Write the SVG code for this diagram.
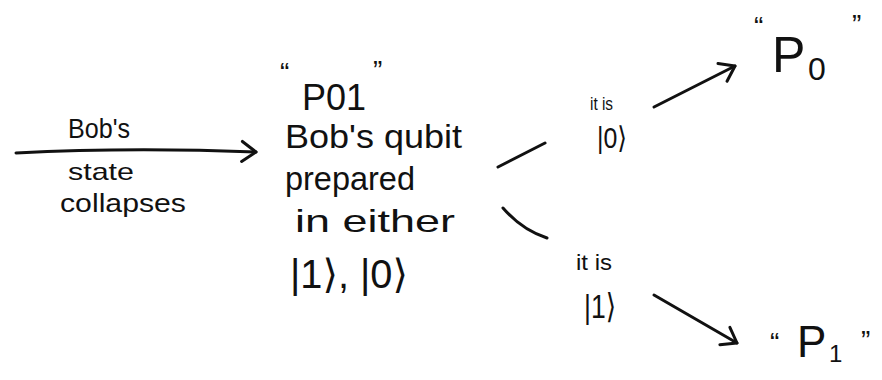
<svg xmlns="http://www.w3.org/2000/svg" width="882" height="380" viewBox="0 0 882 380">
<defs>
<marker id="head" markerUnits="userSpaceOnUse" markerWidth="20" markerHeight="24" refX="16" refY="12" orient="auto">
<path d="M2,2 L16,12 L2,22" fill="none" stroke="#111" stroke-width="3" stroke-linecap="round" stroke-linejoin="round"/>
</marker>
<style>
.t{font-family:"Liberation Sans","DejaVu Sans",sans-serif;fill:#111}
.c{fill:none;stroke:#111;stroke-width:3;stroke-linecap:round}
</style>
</defs>
<rect width="882" height="380" fill="#fff"/>
<g id="connectors">
<path class="c" d="M16,153 Q130,147 256,152" marker-end="url(#head)"/>
<path class="c" d="M498,167 L545,143"/>
<path class="c" d="M654,107 L735,66" marker-end="url(#head)"/>
<path class="c" d="M503,208 Q522,230 547,238"/>
<path class="c" d="M654,295 L737,343" marker-end="url(#head)"/>
</g>
<g id="edge-label-collapse">
<text class="t" x="68" y="138" font-size="28" textLength="62" lengthAdjust="spacingAndGlyphs">Bob's</text>
<text class="t" x="68" y="180" font-size="24" textLength="66" lengthAdjust="spacingAndGlyphs">state</text>
<text class="t" x="60" y="212" font-size="26" textLength="126" lengthAdjust="spacingAndGlyphs">collapses</text>
</g>
<g id="node-P01">
<text class="t" x="280" y="82" font-size="28">“</text>
<text class="t" x="302" y="110" font-size="36">P01</text>
<text class="t" x="373" y="80" font-size="28">”</text>
<text class="t" x="285" y="148" font-size="34" textLength="177" lengthAdjust="spacingAndGlyphs">Bob's qubit</text>
<text class="t" x="285" y="190" font-size="34" textLength="130" lengthAdjust="spacingAndGlyphs">prepared</text>
<text class="t" x="295" y="232" font-size="32" textLength="160" lengthAdjust="spacingAndGlyphs">in either</text>
<text class="t" x="290" y="288" font-size="40" textLength="118" lengthAdjust="spacingAndGlyphs">|1⟩, |0⟩</text>
</g>
<g id="edge-label-0">
<text class="t" x="590" y="110" font-size="18" textLength="23" lengthAdjust="spacingAndGlyphs">it is</text>
<text class="t" x="597" y="148" font-size="30" textLength="30" lengthAdjust="spacingAndGlyphs">|0⟩</text>
</g>
<g id="node-P0">
<text class="t" x="754" y="36" font-size="28">“</text>
<text class="t" x="772" y="72" font-size="50">P</text>
<text class="t" x="808" y="80" font-size="32">0</text>
<text class="t" x="852" y="34" font-size="28">”</text>
</g>
<g id="edge-label-1">
<text class="t" x="576" y="270" font-size="22" textLength="36" lengthAdjust="spacingAndGlyphs">it is</text>
<text class="t" x="584" y="318" font-size="34" textLength="32" lengthAdjust="spacingAndGlyphs">|1⟩</text>
</g>
<g id="node-P1">
<text class="t" x="770" y="352" font-size="28">“</text>
<text class="t" x="797" y="357" font-size="44">P</text>
<text class="t" x="829" y="362" font-size="24">1</text>
<text class="t" x="861" y="350" font-size="28">”</text>
</g>
</svg>
